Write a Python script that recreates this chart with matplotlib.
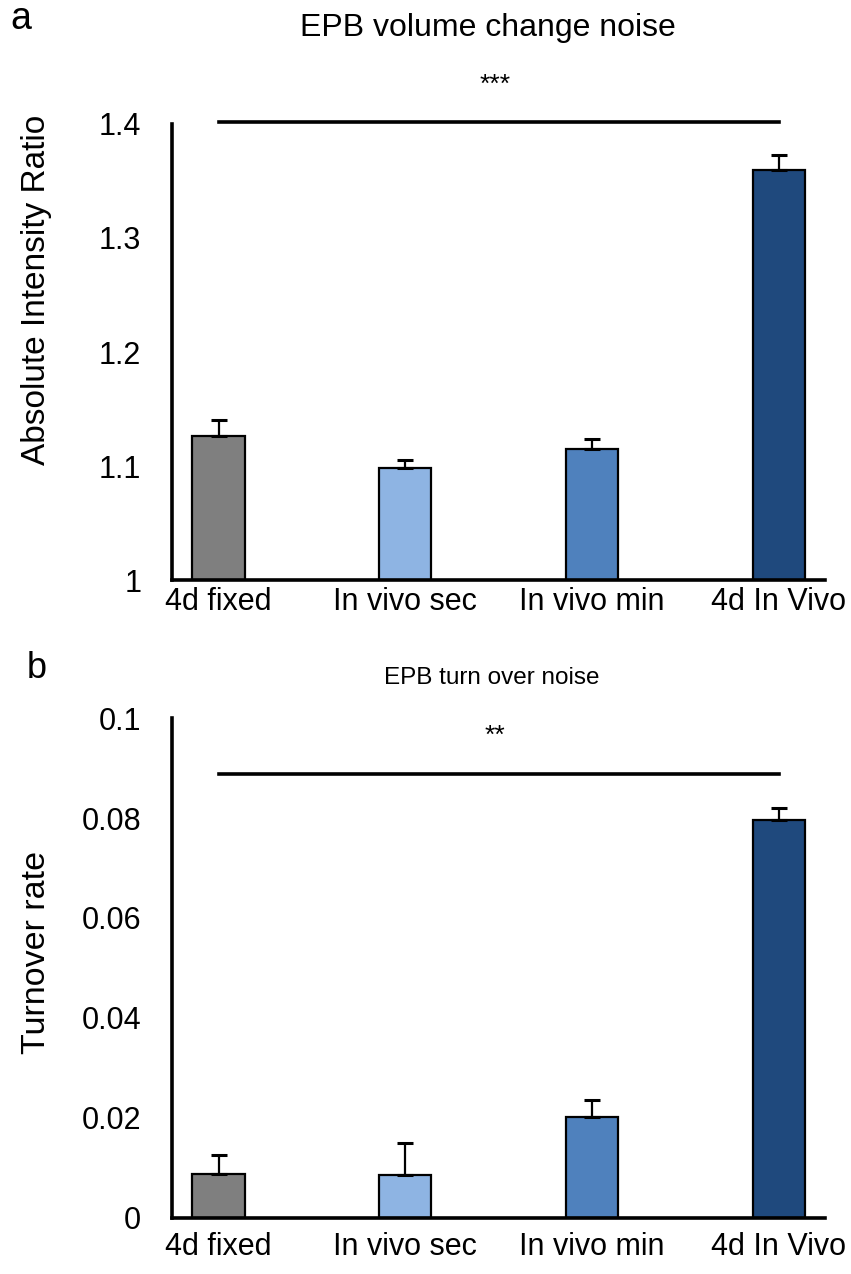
import matplotlib
matplotlib.use('Agg')
import matplotlib.pyplot as plt
import numpy as np

plt.rcParams['font.family'] = ['Liberation Sans', 'DejaVu Sans']

# groups shared by both panels
GROUPS = ['4d fixed', 'In vivo sec', 'In vivo min', '4d In Vivo']
BAR_COLORS = ['#7f7f7f', '#8eb4e3', '#4f81bd', '#1f497d']

# panel a: EPB volume change noise
volume_means = [1.126, 1.098, 1.115, 1.360]
volume_errs = [0.014, 0.007, 0.009, 0.013]
volume_ticks = [1.0, 1.1, 1.2, 1.3, 1.4]
volume_ticklabels = ['1', '1.1', '1.2', '1.3', '1.4']

# panel b: EPB turn over noise
turnover_means = [0.0088, 0.0086, 0.0202, 0.0797]
turnover_errs = [0.0037, 0.0063, 0.0033, 0.0024]
turnover_ticks = [0.0, 0.02, 0.04, 0.06, 0.08, 0.1]
turnover_ticklabels = ['0', '0.02', '0.04', '0.06', '0.08', '0.1']

FONT_SIZE = 22


def draw_panel(ax, means, errs, ticks, ticklabels, sig_y, stars, stars_y, xpad):
    """Bar chart with upward-only error bars and a significance bracket."""
    x = np.arange(len(GROUPS))
    ax.bar(x, means, width=0.28, color=BAR_COLORS, edgecolor='black',
           linewidth=1.6, zorder=2)
    lower = np.zeros(len(errs))
    ax.errorbar(x, means, yerr=[lower, errs], fmt='none', ecolor='black',
                elinewidth=1.6, capsize=6, capthick=2.2, zorder=3)

    ax.set_xlim(-0.25, 3.25)
    ax.set_ylim(ticks[0], ticks[-1])
    ax.set_xticks(x)
    ax.set_xticklabels(GROUPS, fontsize=FONT_SIZE)
    ax.set_yticks(ticks)
    ax.set_yticklabels(ticklabels, fontsize=FONT_SIZE)
    ax.tick_params(axis='both', length=0)
    ax.tick_params(axis='y', pad=22)
    ax.tick_params(axis='x', pad=xpad)

    for side in ['top', 'right']:
        ax.spines[side].set_visible(False)
    for side in ['left', 'bottom']:
        ax.spines[side].set_linewidth(2.6)

    # significance line between the first and last group
    ax.plot([x[0], x[-1]], [sig_y, sig_y], color='black', linewidth=2.6,
            clip_on=False, zorder=4)
    ax.text((x[0] + x[-1]) / 2 - 0.02, stars_y, stars, ha='center', va='center',
            fontsize=FONT_SIZE - 3, clip_on=False)


def main():
    fig = plt.figure(figsize=(8.51, 12.74), dpi=100)

    ax_a = fig.add_axes([0.202, 0.5447, 0.768, 0.358])
    draw_panel(ax_a, volume_means, volume_errs, volume_ticks, volume_ticklabels,
               1.4018, '***', 1.434, 5)
    ax_a.set_ylabel('Absolute Intensity Ratio', fontsize=24)
    ax_a.yaxis.set_label_coords(-0.184, 0.636)

    ax_b = fig.add_axes([0.202, 0.044, 0.768, 0.3924])
    draw_panel(ax_b, turnover_means, turnover_errs, turnover_ticks,
               turnover_ticklabels, 0.0888, '**', 0.0965, 10)
    ax_b.set_ylabel('Turnover rate', fontsize=24.5)
    ax_b.yaxis.set_label_coords(-0.184, 0.532)

    fig.text(488 / 851, 1 - 28 / 1274, 'EPB volume change noise',
             ha='center', va='center', fontsize=23)
    fig.text(492 / 851, 1 - 678 / 1274, 'EPB turn over noise',
             ha='center', va='center', fontsize=17.5)
    fig.text(21 / 851, 1 - 19 / 1274, 'a', ha='center', va='center',
             fontsize=27)
    fig.text(37 / 851, 1 - 668 / 1274, 'b', ha='center', va='center',
             fontsize=26)

    fig.savefig('out.png', dpi=100)


if __name__ == "__main__":
    main()
